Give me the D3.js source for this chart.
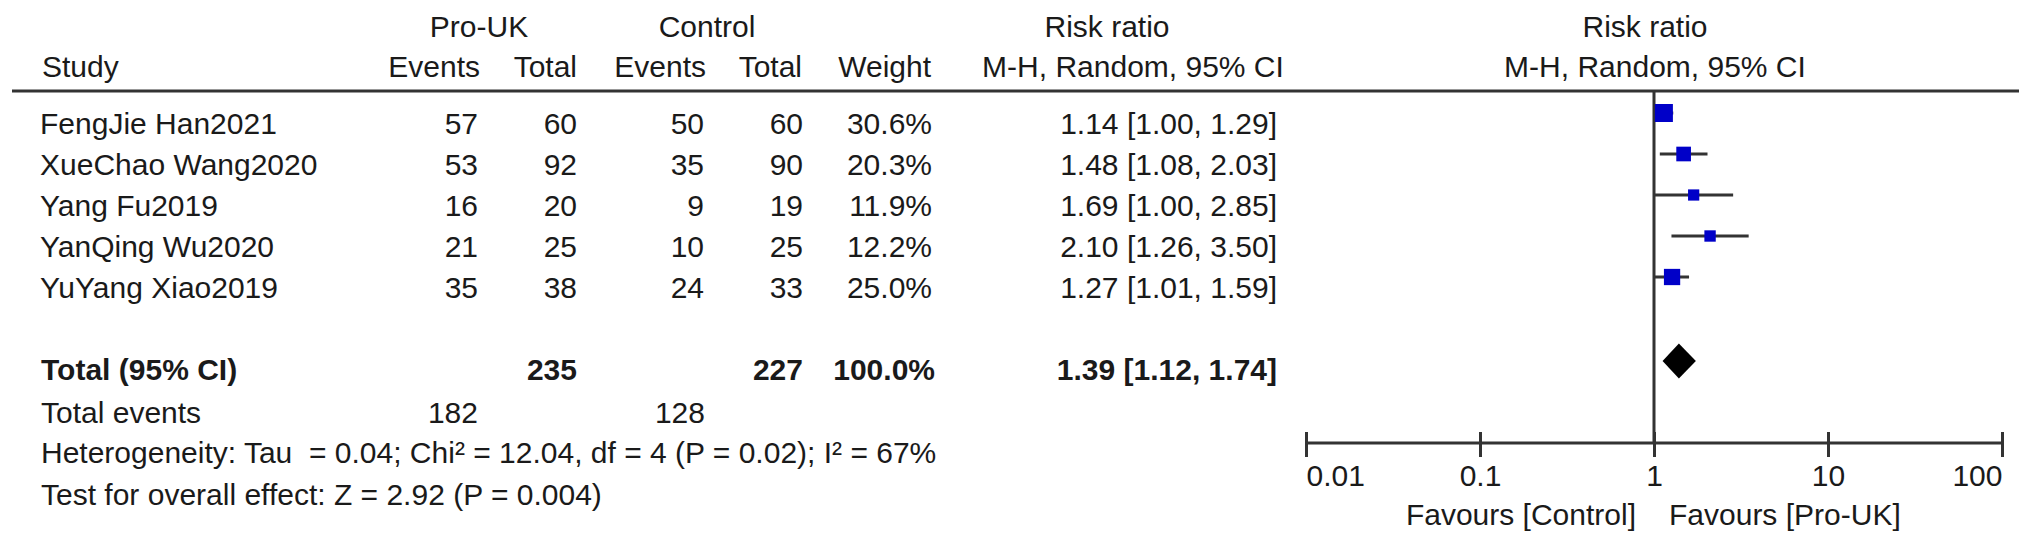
<!DOCTYPE html>
<html>
<head>
<meta charset="utf-8">
<script src="https://cdn.jsdelivr.net/npm/d3@7"></script>
<style>
  html, body { margin: 0; padding: 0; background: #fff; }
  svg text { font-family: "Liberation Sans", Arial, sans-serif; font-size: 30px; fill: #1a1a1a; white-space: pre; }
</style>
</head>
<body>
<div id="chart"></div>
<script>
// study rows
const studies = ["FengJie Han2021", "XueChao Wang2020", "Yang Fu2019", "YanQing Wu2020", "YuYang Xiao2019"];
const proEvents = [57, 53, 16, 21, 35];
const proTotal = [60, 92, 20, 25, 38];
const ctrlEvents = [50, 35, 9, 10, 24];
const ctrlTotal = [60, 90, 19, 25, 33];
const weights = [30.6, 20.3, 11.9, 12.2, 25.0];
const riskRatio = [1.14, 1.48, 1.69, 2.10, 1.27];
const ciLow = [1.00, 1.08, 1.00, 1.26, 1.01];
const ciHigh = [1.29, 2.03, 2.85, 3.50, 1.59];

// pooled result
const totalPro = 235;
const totalCtrl = 227;
const totalEventsPro = 182;
const totalEventsCtrl = 128;
const pooled = { rr: 1.39, low: 1.12, high: 1.74 };

const axisTicks = [0.01, 0.1, 1, 10, 100];
const tickLabels = ["0.01", "0.1", "1", "10", "100"];

const heterogeneity = "Heterogeneity: Tau  = 0.04; Chi² = 12.04, df = 4 (P = 0.02); I² = 67%";
const overallEffect = "Test for overall effect: Z = 2.92 (P = 0.004)";

const width = 2032;
const height = 544;

const svg = d3.select("#chart")
  .append("svg")
  .attr("width", width)
  .attr("height", height)
  .attr("viewBox", [0, 0, width, height]);

const x = d3.scaleLog().domain([0.01, 100]).range([1306, 2002]);
const rowY = d3.scaleLinear().domain([0, studies.length - 1]).range([134, 298]);
const boxSize = d3.scaleSqrt().domain([0, 30.6]).range([0, 18]);
const markOffset = -21; // markers sit above text baseline
const totalY = 380;
const axisY = 443;

const fmt2 = d3.format(".2f");
const ciText = (r, l, h) => `${fmt2(r)} [${fmt2(l)}, ${fmt2(h)}]`;

// column right edges
const cols = { study: 40, proE: 478, proT: 577, ctlE: 704, ctlT: 803, weight: 932, ci: 1277 };

function txt(g, xx, yy, s, anchor = "start", bold = false) {
  return g.append("text")
    .attr("x", xx)
    .attr("y", yy)
    .attr("text-anchor", anchor)
    .attr("font-weight", bold ? "bold" : null)
    .text(s);
}

// headers
const head = svg.append("g");
txt(head, 479, 37, "Pro-UK", "middle");
txt(head, 707, 37, "Control", "middle");
txt(head, 1107, 37, "Risk ratio", "middle");
txt(head, 1645, 37, "Risk ratio", "middle");
txt(head, 42, 77, "Study");
txt(head, 480, 77, "Events", "end");
txt(head, 577, 77, "Total", "end");
txt(head, 706, 77, "Events", "end");
txt(head, 802, 77, "Total", "end");
txt(head, 931, 77, "Weight", "end");
txt(head, 1133, 77, "M-H, Random, 95% CI", "middle");
txt(head, 1655, 77, "M-H, Random, 95% CI", "middle");

svg.append("line")
  .attr("x1", 12).attr("x2", 2019)
  .attr("y1", 91).attr("y2", 91)
  .attr("stroke", "#333").attr("stroke-width", 3);

// study rows text
const rows = svg.append("g");
studies.forEach((name, i) => {
  const y = rowY(i);
  txt(rows, cols.study, y, name);
  txt(rows, cols.proE, y, proEvents[i], "end");
  txt(rows, cols.proT, y, proTotal[i], "end");
  txt(rows, cols.ctlE, y, ctrlEvents[i], "end");
  txt(rows, cols.ctlT, y, ctrlTotal[i], "end");
  txt(rows, cols.weight, y, weights[i].toFixed(1) + "%", "end");
  txt(rows, cols.ci, y, ciText(riskRatio[i], ciLow[i], ciHigh[i]), "end");
});

// total rows
const foot = svg.append("g");
txt(foot, 41, totalY, "Total (95% CI)", "start", true);
txt(foot, cols.proT, totalY, totalPro, "end", true);
txt(foot, cols.ctlT, totalY, totalCtrl, "end", true);
txt(foot, 935, totalY, d3.sum(weights).toFixed(1) + "%", "end", true);
txt(foot, cols.ci, totalY, ciText(pooled.rr, pooled.low, pooled.high), "end", true);
txt(foot, 41, 423, "Total events");
txt(foot, cols.proE, 423, totalEventsPro, "end");
txt(foot, 705, 423, totalEventsCtrl, "end");
txt(foot, 41, 463, heterogeneity);
txt(foot, 41, 505, overallEffect);

// forest plot
const plot = svg.append("g");

plot.append("line")
  .attr("x1", x(1)).attr("x2", x(1))
  .attr("y1", 91).attr("y2", axisY)
  .attr("stroke", "#333").attr("stroke-width", 3);

plot.selectAll(".whisker")
  .data(studies.map((s, i) => i))
  .join("line")
  .attr("class", "whisker")
  .attr("x1", (i) => x(ciLow[i]))
  .attr("x2", (i) => x(ciHigh[i]))
  .attr("y1", (i) => rowY(i) + markOffset)
  .attr("y2", (i) => rowY(i) + markOffset)
  .attr("stroke", "#333")
  .attr("stroke-width", 3);

plot.selectAll(".box")
  .data(studies.map((s, i) => i))
  .join("rect")
  .attr("class", "box")
  .attr("x", (i) => x(riskRatio[i]) - boxSize(weights[i]) / 2)
  .attr("y", (i) => rowY(i) + markOffset - boxSize(weights[i]) / 2)
  .attr("width", (i) => boxSize(weights[i]))
  .attr("height", (i) => boxSize(weights[i]))
  .attr("fill", "#0000c8");

const dy = totalY - 19;
plot.append("path")
  .attr("d", `M${x(pooled.low)},${dy} L${x(pooled.rr)},${dy - 17.5} L${x(pooled.high)},${dy} L${x(pooled.rr)},${dy + 17.5} Z`)
  .attr("fill", "#000");

// x axis
const axis = d3.axisBottom(x)
  .tickValues(axisTicks)
  .tickFormat((d, i) => tickLabels[i])
  .tickSizeInner(25)
  .tickSizeOuter(0);

const axisG = plot.append("g")
  .attr("transform", `translate(0,${axisY - 11})`)
  .call(axis);

axisG.select(".domain").remove();
axisG.selectAll(".tick line").attr("stroke", "#333").attr("stroke-width", 3);
axisG.selectAll(".tick text")
  .attr("y", 54)
  .attr("dy", null)
  .attr("font-size", null)
  .attr("font-family", null)
  .attr("fill", null)
  .attr("text-anchor", (d, i) => (i === 0 ? "start" : i === axisTicks.length - 1 ? "end" : "middle"));
axisG.attr("font-size", null).attr("font-family", null);

plot.append("line")
  .attr("x1", x(0.01)).attr("x2", x(100))
  .attr("y1", axisY).attr("y2", axisY)
  .attr("stroke", "#333").attr("stroke-width", 3);

txt(plot, x(1) - 18, 525, "Favours [Control]", "end");
txt(plot, x(1) + 15, 525, "Favours [Pro-UK]", "start");
</script>
</body>
</html>
